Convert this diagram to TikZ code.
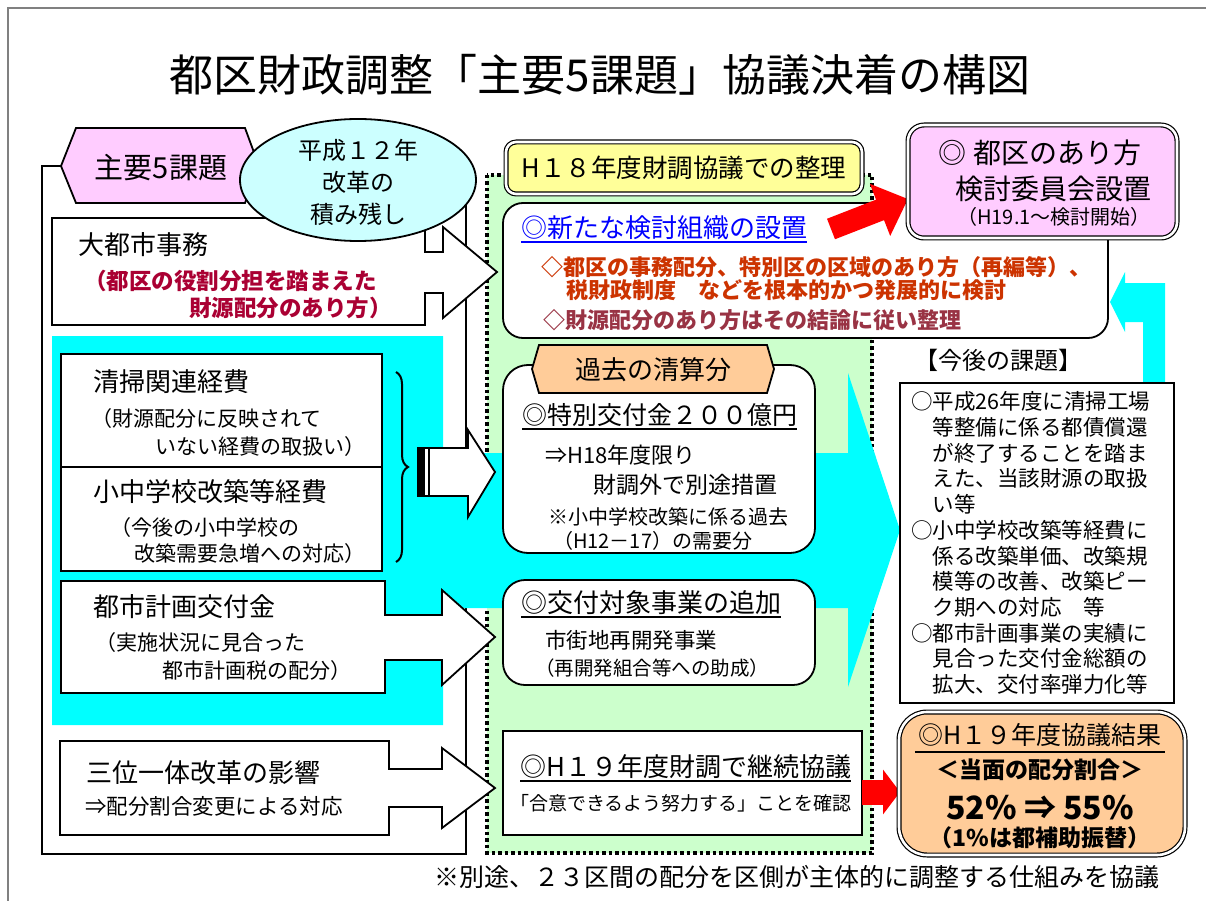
\documentclass[tikz,border=0pt]{standalone}
\usepackage{fontspec}
\setmainfont{Noto Sans CJK JP}
\usepackage{tikz}
\usetikzlibrary{arrows.meta,positioning,calc,decorations.pathreplacing}

\definecolor{hexpink}{HTML}{FFCCFF}
\definecolor{bubblecyan}{HTML}{CCFFFF}
\definecolor{bandcyan}{HTML}{00FFFF}
\definecolor{seirigreen}{HTML}{CCFFCC}
\definecolor{seiriyellow}{HTML}{FFFF99}
\definecolor{kakopeach}{HTML}{FFCC99}
\definecolor{winered}{HTML}{AA0033}
\definecolor{rustred}{HTML}{CC3300}
\definecolor{plumred}{HTML}{993344}

\tikzset{
	txt/.style={inner sep=0pt, anchor=west},
	edgeline/.style={draw=black, line width=1.8pt, line join=miter},
	blockarrow/.style={edgeline, fill=white},
	softbox/.style={edgeline, fill=white, rounded corners=22pt},
	twinbox/.style={draw=black, line width=1.2pt, double=white, double distance=2.6pt},
	ulbar/.style={line width=2pt},
}

\begin{document}
\begin{tikzpicture}[x=1pt,y=-1pt]
	\useasboundingbox (0,0) rectangle (1206,901);
	\draw[gray, line width=2pt] (8,901) -- (8,8) -- (1206,8);
	\node[font=\fontsize{44}{50}\selectfont] (title) at (600,75) {都区財政調整「主要5課題」協議決着の構図};

	\draw[edgeline, fill=white] (42,166) rectangle (466,854);
	\fill[seirigreen] (487,175) rectangle (872,853);
	\draw[line width=3.5pt, dash pattern=on 3.5pt off 3pt] (487,175) rectangle (872,853);
	\fill[bandcyan] (52,336) -- (443,336) -- (443,453) -- (848,453) -- (848,373) -- (900,530) -- (848,687) -- (848,608) -- (443,608) -- (443,725) -- (52,725) -- cycle;

	\draw[blockarrow] (52,218) -- (425,218) -- (425,252) -- (443,252) -- (443,227) -- (497,272) -- (443,318) -- (443,293) -- (425,293) -- (425,325) -- (52,325) -- cycle;
	\node[txt, font=\fontsize{26}{30}\selectfont] (daitoshi) at (78,245) {大都市事務};
	\node[txt, text=winered, font=\fontsize{22.5}{26}\selectfont\bfseries] (yakuwari) at (84,281) {（都区の役割分担を踏まえた};
	\node[txt, anchor=east, text=winered, font=\fontsize{22.5}{26}\selectfont\bfseries] (haibun) at (392,308) {財源配分のあり方）};

	\draw[edgeline, fill=hexpink] (61,166) -- (76,128) -- (245,128) -- (259,166) -- (245,203) -- (76,203) -- cycle;
	\node[font=\fontsize{29}{32}\selectfont] (kadai) at (161,168) {主要5課題};
	\draw[edgeline, fill=bubblecyan] (358,180) ellipse [x radius=118pt, y radius=61pt];
	\node[align=center, font=\fontsize{24}{32}\selectfont] (zanshi) at (358,182) {平成１２年\\改革の\\積み残し};

	\draw[edgeline, fill=white] (61,354) rectangle (382,467);
	\draw[edgeline, fill=white] (61,467) rectangle (382,571);
	\node[txt, font=\fontsize{26}{30}\selectfont] (seisou) at (93,382) {清掃関連経費};
	\node[txt, font=\fontsize{21}{24}\selectfont] (seisou1) at (91,419) {（財源配分に反映されて};
	\node[txt, anchor=east, font=\fontsize{21}{24}\selectfont] (seisou2) at (366,447) {いない経費の取扱い）};
	\node[txt, font=\fontsize{26}{30}\selectfont] (kaichiku) at (93,492) {小中学校改築等経費};
	\node[txt, font=\fontsize{21}{24}\selectfont] (kaichiku1) at (110,528) {（今後の小中学校の};
	\node[txt, anchor=east, font=\fontsize{21}{24}\selectfont] (kaichiku2) at (366,554) {改築需要急増への対応）};
	\draw[line width=2pt, decorate, decoration={brace, amplitude=12pt}] (396,372) -- (396,562);
	\draw[blockarrow] (418,448) -- (468,448) -- (468,430) -- (495,472) -- (468,517) -- (468,496) -- (418,496) -- cycle;
	\fill (418,448) rectangle (425,496);
	\draw[line width=1.5pt] (429,448) -- (429,496);

	\draw[blockarrow] (61,581) -- (385,581) -- (385,615) -- (442,615) -- (442,590) -- (495,637) -- (442,685) -- (442,660) -- (385,660) -- (385,693) -- (61,693) -- cycle;
	\node[txt, font=\fontsize{26}{30}\selectfont] (toshikei) at (93,607) {都市計画交付金};
	\node[txt, font=\fontsize{21}{24}\selectfont] (toshikei1) at (95,643) {（実施状況に見合った};
	\node[txt, anchor=east, font=\fontsize{21}{24}\selectfont] (toshikei2) at (352,671) {都市計画税の配分）};

	\draw[blockarrow] (60,741) -- (389,741) -- (389,769) -- (442,769) -- (442,748) -- (495,788) -- (442,828) -- (442,807) -- (389,807) -- (389,835) -- (60,835) -- cycle;
	\node[txt, font=\fontsize{26}{30}\selectfont] (sanmi) at (86,773) {三位一体改革の影響};
	\node[txt, font=\fontsize{21.5}{24}\selectfont] (sanmi1) at (85,806) {⇒配分割合変更による対応};

	\draw[twinbox, fill=seiriyellow, rounded corners=10pt] (506,142) rectangle (862,194);
	\node[font=\fontsize{25.5}{30}\selectfont] (seiri) at (684,168) {H１８年度財調協議での整理};

	\draw[softbox, rounded corners=20pt] (503,203) rectangle (1108,338);
	\node[txt, text=blue, font=\fontsize{26}{30}\selectfont] (soshiki) at (521,228) {◎新たな検討組織の設置};
	\draw[ulbar, blue] ([yshift=-2pt]soshiki.south west) -- ([yshift=-2pt]soshiki.south east);
	\node[txt, text=rustred, font=\fontsize{22}{26}\selectfont\bfseries] (soshiki1) at (541,267) {◇都区の事務配分、特別区の区域のあり方（再編等）、};
	\node[txt, text=rustred, font=\fontsize{22}{26}\selectfont\bfseries] (soshiki2) at (566,290) {税財政制度　などを根本的かつ発展的に検討};
	\node[txt, text=plumred, font=\fontsize{22}{26}\selectfont\bfseries] (soshiki3) at (543,320) {◇財源配分のあり方はその結論に従い整理};

	\coordinate (redtail) at (831,229);
	\coordinate (redtip) at (908,199);
	\draw[red, line width=22pt, -{Triangle[length=30pt,width=54pt]}] (redtail) -- (redtip);
	\draw[twinbox, fill=hexpink, rounded corners=16pt] (908,125) rectangle (1177,238);
	\node[font=\fontsize{28}{32}\selectfont] (iinkai1) at (1040,153) {◎ 都区のあり方};
	\node[font=\fontsize{28}{32}\selectfont] (iinkai2) at (1053,189) {検討委員会設置};
	\node[font=\fontsize{20}{22}\selectfont] (iinkai3) at (1054,217) {（H19.1～検討開始）};

	\fill[bandcyan] (1110,302) -- (1125,272) -- (1125,283) -- (1165,283) -- (1165,385) -- (1143,385) -- (1143,322) -- (1125,322) -- (1125,332) -- cycle;
	\node[font=\fontsize{24}{27}\selectfont] (kongo) at (998,360) {【今後の課題】};
	\draw[edgeline, fill=white] (900,383) rectangle (1174,703);
	\node[txt, align=left, font=\fontsize{21.5}{25.7}\selectfont] (kongo1) at (911,543) {○平成26年度に清掃工場\\　等整備に係る都債償還\\　が終了することを踏ま\\　えた、当該財源の取扱\\　い等\\○小中学校改築等経費に\\　係る改築単価、改築規\\　模等の改善、改築ピー\\　ク期への対応　等\\○都市計画事業の実績に\\　見合った交付金総額の\\　拡大、交付率弾力化等};

	\draw[softbox, rounded corners=25pt] (503,365) rectangle (815,553);
	\draw[edgeline, fill=kakopeach] (532,369) -- (539,345) -- (767,345) -- (774,369) -- (767,393) -- (539,393) -- cycle;
	\node[font=\fontsize{26}{30}\selectfont] (kako) at (653,370) {過去の清算分};
	\node[txt, font=\fontsize{25}{30}\selectfont] (tokubetsu) at (522,415) {◎特別交付金２００億円};
	\draw[ulbar] ([yshift=-2pt]tokubetsu.south west) -- ([yshift=-2pt]tokubetsu.south east);
	\node[txt, font=\fontsize{22}{26}\selectfont] (tokubetsu1) at (545,455) {⇒H18年度限り};
	\node[txt, font=\fontsize{23}{26}\selectfont] (tokubetsu2) at (593,485) {財調外で別途措置};
	\node[txt, font=\fontsize{20}{24}\selectfont] (tokubetsu3) at (548,517) {※小中学校改築に係る過去};
	\node[txt, font=\fontsize{20}{24}\selectfont] (tokubetsu4) at (553,541) {（H12－17）の需要分};

	\draw[softbox, rounded corners=22pt] (503,580) rectangle (815,685);
	\node[txt, font=\fontsize{26}{30}\selectfont] (tsuika) at (521,603) {◎交付対象事業の追加};
	\draw[ulbar] ([yshift=-2pt]tsuika.south west) -- ([yshift=-2pt]tsuika.south east);
	\node[txt, font=\fontsize{21.5}{26}\selectfont] (tsuika1) at (545,640) {市街地再開発事業};
	\node[txt, font=\fontsize{19.5}{24}\selectfont] (tsuika2) at (535,668) {（再開発組合等への助成）};

	\draw[edgeline, fill=white] (503,731) rectangle (862,835);
	\node[txt, font=\fontsize{26}{30}\selectfont] (keizoku) at (520,767) {◎H１９年度財調で継続協議};
	\draw[ulbar] ([yshift=-2pt]keizoku.south west) -- ([yshift=-2pt]keizoku.south east);
	\node[txt, font=\fontsize{19}{24}\selectfont] (keizoku1) at (510,803) {「合意できるよう努力する」ことを確認};

	\coordinate (redtail2) at (862,792);
	\coordinate (redtip2) at (900,792);
	\draw[red, line width=25pt, -{Triangle[length=17pt,width=44pt]}] (redtail2) -- (redtip2);
	\draw[twinbox, fill=kakopeach, rounded corners=28pt] (899,712) rectangle (1185,855);
	\node[font=\fontsize{25}{30}\selectfont] (kekka) at (1040,735) {◎H１９年度協議結果};
	\draw[ulbar] ([yshift=-2pt]kekka.south west) -- ([yshift=-2pt]kekka.south east);
	\node[font=\fontsize{23}{26}\selectfont\bfseries] (kekka1) at (1040,770) {＜当面の配分割合＞};
	\node[font=\fontsize{32}{36}\selectfont\bfseries] (kekka2) at (1040,808) {52\% ⇒ 55\%};
	\node[font=\fontsize{23}{26}\selectfont\bfseries] (kekka3) at (1040,838) {（1\%は都補助振替）};

	\node[font=\fontsize{25}{30}\selectfont] (bikou) at (797,877) {※別途、２３区間の配分を区側が主体的に調整する仕組みを協議};
\end{tikzpicture}
\end{document}
